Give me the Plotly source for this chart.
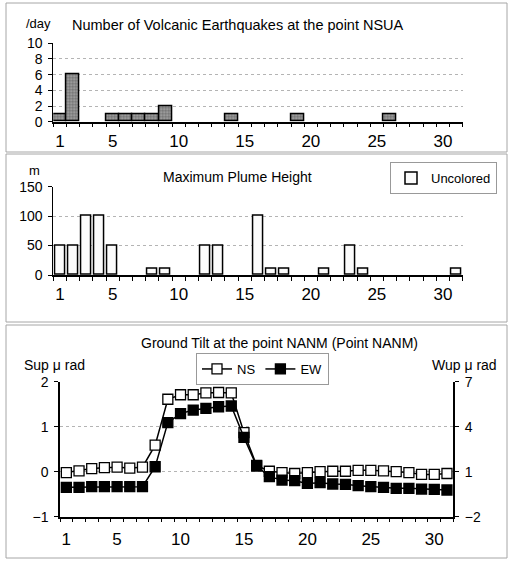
import plotly.graph_objects as go

W, H = 510, 562
days = list(range(1, 32))

# Panel 1: volcanic earthquakes per day
quake_days = [1, 2, 5, 6, 7, 8, 9, 14, 19, 26]
quake_counts = [1, 6, 1, 1, 1, 1, 2, 1, 1, 1]

# Panel 2: maximum plume height (m)
plume_days = [1, 2, 3, 4, 5, 8, 9, 12, 13, 16, 17, 18, 21, 23, 24, 31]
plume_height = [50, 50, 100, 100, 50, 10, 10, 50, 50, 100, 10, 10, 10, 50, 10, 10]

# Panel 3: ground tilt
tilt_ns = [-0.02, 0.02, 0.07, 0.09, 0.10, 0.08, 0.10, 0.59, 1.61, 1.71, 1.71, 1.75, 1.76, 1.75,
           0.87, 0.14, 0.01, -0.02, -0.04, -0.02, 0.0, 0.01, 0.01, 0.03, 0.03, 0.02, 0.0,
           -0.02, -0.06, -0.06, -0.04]
tilt_ew = [-0.04, -0.04, 0.0, 0.0, 0.0, 0.0, 0.0, 1.33, 4.27, 4.87, 5.11, 5.22, 5.33, 5.38,
           3.29, 1.38, 0.67, 0.44, 0.40, 0.22, 0.27, 0.18, 0.16, 0.07, 0.0, -0.04, -0.11,
           -0.11, -0.16, -0.18, -0.22]

x_ticks = [1, 5, 10, 15, 20, 25, 30]

def px(x):
    return x / W

def py(y):
    return 1 - y / H

FONT = "Liberation Sans"

fig = go.Figure()

fig.add_trace(go.Bar(
    x=quake_days, y=quake_counts, width=1.0, xaxis="x", yaxis="y",
    marker=dict(color="#8a8a8a", line=dict(color="black", width=1.5),
                pattern=dict(shape=".", fgcolor="#333333", bgcolor="#a8a8a8", size=3, solidity=0.5)),
    showlegend=False,
))

fig.add_trace(go.Bar(
    x=plume_days, y=plume_height, width=0.75, xaxis="x2", yaxis="y2",
    marker=dict(color="#fbfbfb", line=dict(color="black", width=1.5)),
    name="Uncolored", legend="legend", showlegend=True,
))

fig.add_trace(go.Scatter(
    x=days, y=tilt_ns, xaxis="x3", yaxis="y3", mode="lines+markers", name="NS",
    line=dict(color="black", width=1.5),
    marker=dict(symbol="square", size=10, color="white", line=dict(color="black", width=1.3)),
    legend="legend2",
))

fig.add_trace(go.Scatter(
    x=days, y=tilt_ew, xaxis="x3", yaxis="y4", mode="lines+markers", name="EW",
    line=dict(color="black", width=1.5),
    marker=dict(symbol="square", size=10, color="black", line=dict(color="black", width=1.3)),
    legend="legend2",
))

grid = dict(showgrid=True, gridcolor="#b4b4b4", griddash="dot", gridwidth=1)

def xaxis_common(dom, anchor, font_size, standoff):
    return dict(
        domain=dom, anchor=anchor, range=[0.5, 31.5], tickmode="array", tickvals=x_ticks,
        ticks="", showgrid=False, zeroline=False, showline=True, linecolor="black", linewidth=1.5,
        automargin=False,
        tickfont=dict(size=font_size, color="black", family=FONT), ticklabelstandoff=standoff,
        minor=dict(ticks="outside", tick0=0.5, dtick=1, ticklen=4, tickcolor="black", tickwidth=1, showgrid=False),
    )

def yaxis_common(dom, anchor, rng, vals, lw):
    return dict(domain=dom, anchor=anchor, range=rng, tickmode="array", tickvals=vals,
                ticks="outside", ticklen=4, tickcolor="black", showline=True, linecolor="black",
                linewidth=lw, zeroline=False, automargin=False, ticklabelstandoff=3,
                tickfont=dict(size=14, family=FONT, color="black"), **grid)

xd12 = [px(53.3), px(462.7)]
xd3 = [px(60), px(453.3)]

fig.update_layout(
    width=W, height=H, margin=dict(l=0, r=0, t=0, b=0, autoexpand=False),
    paper_bgcolor="white", plot_bgcolor="white",
    font=dict(family=FONT, color="black", size=13),
    bargap=0,
    xaxis=xaxis_common(xd12, "y", 17, 3),
    yaxis=yaxis_common([py(121.7), py(43.3)], "x", [0, 10], [0, 2, 4, 6, 8, 10], 1),
    xaxis2=xaxis_common(xd12, "y2", 17, 3),
    yaxis2=yaxis_common([py(275), py(186.7)], "x2", [0, 150], [0, 50, 100, 150], 1),
    xaxis3=xaxis_common(xd3, "y3", 17, 6),
    yaxis3=yaxis_common([py(516.7), py(381.7)], "x3", [-1, 2], [-1, 0, 1, 2], 1.5),
    yaxis4=dict(overlaying="y3", anchor="x3", side="right", range=[-2, 7], tickmode="array",
                tickvals=[-2, 1, 4, 7], ticks="outside", ticklen=4, tickcolor="black", showline=True,
                linecolor="black", linewidth=1.5, zeroline=False, showgrid=False, automargin=False,
                ticklabelstandoff=3, tickfont=dict(size=14, family=FONT, color="black")),
    legend=dict(x=px(497), y=py(162), xanchor="right", yanchor="top", bordercolor="#999999", borderwidth=1,
                bgcolor="white", font=dict(size=13, family=FONT), itemwidth=30, tracegroupgap=0),
    legend2=dict(x=px(196), y=py(353), xanchor="left", yanchor="top", orientation="h",
                 bordercolor="#999999", borderwidth=1, bgcolor="white",
                 font=dict(size=13, family=FONT), itemwidth=30),
)

shapes = []
for top, bot in [(3, 152), (154, 322), (325, 558)]:
    shapes.append(dict(type="rect", xref="paper", yref="paper", x0=px(6), x1=px(507), y0=py(bot), y1=py(top),
                       line=dict(color="#a6a6a6", width=1), fillcolor="rgba(0,0,0,0)", layer="below"))
fig.update_layout(shapes=shapes)

ann = [
    ("/day", 38, 23, 13),
    ("Number of Volcanic Earthquakes at the point NSUA", 237.5, 25, 14.5),
    ("m", 34, 170, 13),
    ("Maximum Plume Height", 237, 177, 14),
    ("Ground Tilt at the point NANM (Point NANM)", 279, 343, 14),
    ("Sup μ rad", 54, 365, 14),
    ("Wup μ rad", 464, 365, 14),
]
for text, x, y, fs in ann:
    fig.add_annotation(text=text, x=px(x), y=py(y), xref="paper", yref="paper", showarrow=False,
                       xanchor="center", yanchor="middle", font=dict(size=fs, family=FONT, color="black"))

fig.write_html("out.html", config={"displayModeBar": False},
               post_script="document.body.style.margin='0';")
